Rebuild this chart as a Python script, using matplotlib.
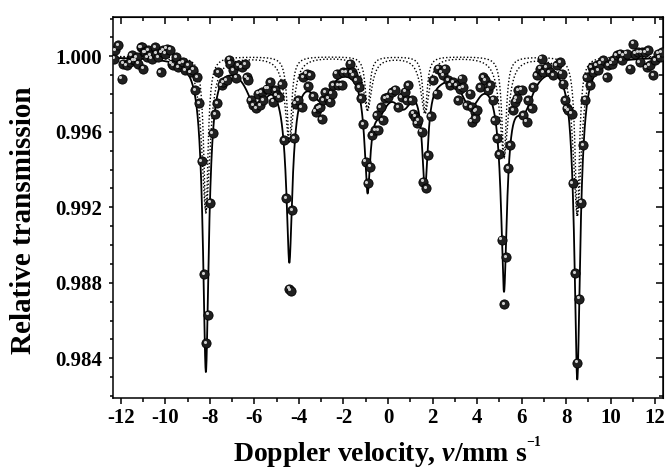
import numpy as np
import matplotlib.pyplot as plt
from matplotlib.ticker import MultipleLocator, FormatStrFormatter
from matplotlib.transforms import offset_copy

velocidad = [
    -12.30, -12.26, -12.11, -11.96, -11.88, -11.73, -11.58, -11.51, -11.43, -11.36,
    -11.29, -11.22, -11.11, -11.06, -10.99, -10.96, -10.91, -10.81, -10.76, -10.69,
    -10.61, -10.46, -10.42, -10.31, -10.21, -10.16, -10.09, -10.01, -9.94, -9.79,
    -9.71, -9.64, -9.52, -9.42, -9.34, -9.19, -9.12, -8.97, -8.86, -8.74,
    -8.67, -8.56, -8.47, -8.37, -8.26, -8.17, -8.07, -7.99, -7.87, -7.77,
    -7.66, -7.62, -7.47, -7.39, -7.24, -7.14, -7.09, -6.95, -6.83, -6.72,
    -6.57, -6.42, -6.35, -6.27, -6.17, -6.05, -5.93, -5.82, -5.75, -5.67,
    -5.60, -5.45, -5.37, -5.30, -5.15, -5.07, -5.00, -4.88, -4.77, -4.67,
    -4.58, -4.43, -4.37, -4.30, -4.21, -4.15, -4.03, -3.88, -3.80, -3.65,
    -3.58, -3.50, -3.35, -3.25, -3.13, -3.05, -2.98, -2.90, -2.83, -2.68,
    -2.60, -2.53, -2.46, -2.30, -2.23, -2.08, -2.01, -1.86, -1.71, -1.63,
    -1.56, -1.41, -1.29, -1.21, -1.11, -1.00, -0.91, -0.81, -0.70, -0.58,
    -0.51, -0.43, -0.33, -0.24, -0.13, 0.01, 0.17, 0.31, 0.46, 0.61,
    0.76, 0.84, 0.91, 1.06, 1.14, 1.21, 1.29, 1.36, 1.51, 1.59,
    1.71, 1.81, 1.92, 2.04, 2.19, 2.26, 2.41, 2.48, 2.56, 2.71,
    2.78, 2.93, 3.08, 3.16, 3.23, 3.31, 3.38, 3.53, 3.68, 3.76,
    3.76, 3.91, 3.91, 3.98, 4.13, 4.28, 4.36, 4.51, 4.58, 4.73,
    4.80, 4.91, 5.00, 5.11, 5.21, 5.30, 5.40, 5.48, 5.63, 5.70,
    5.78, 5.85, 6.00, 6.08, 6.23, 6.30, 6.45, 6.53, 6.68, 6.83,
    6.90, 6.97, 7.12, 7.27, 7.42, 7.57, 7.72, 7.80, 7.87, 7.95,
    8.02, 8.10, 8.25, 8.29, 8.40, 8.50, 8.59, 8.69, 8.77, 8.85,
    8.92, 9.07, 9.15, 9.22, 9.37, 9.45, 9.52, 9.67, 9.82, 9.89,
    10.04, 10.12, 10.27, 10.42, 10.49, 10.57, 10.72, 10.87, 11.02, 11.09,
    11.24, 11.31, 11.39, 11.54, 11.62, 11.69, 11.76, 11.92, 11.99, 12.14,
    12.21, 12.29,
]
transmision = [
    0.99988, 1.00032, 1.00058, 0.99882, 0.99961, 0.99952, 0.99970, 1.00005, 0.99979, 0.99979,
    0.99996, 0.99961, 1.00049, 1.00049, 0.99935, 1.00023, 1.00023, 0.99996, 1.00032, 1.00005,
    0.99988, 1.00049, 1.00014, 0.99996, 0.99917, 1.00023, 1.00032, 1.00014, 1.00040, 1.00035,
    0.99961, 0.99952, 0.99996, 0.99944, 0.99961, 0.99970, 0.99926, 0.99952, 0.99917, 0.99930,
    0.99820, 0.99891, 0.99753, 0.99445, 0.98847, 0.98480, 0.98632, 0.99225, 0.99592, 0.99692,
    0.99753, 0.99917, 0.99847, 0.99864, 0.99873, 0.99982, 0.99961, 0.99926, 0.99887, 0.99952,
    0.99944, 0.99958, 0.99891, 0.99877, 0.99768, 0.99741, 0.99724, 0.99803, 0.99741, 0.99811,
    0.99768, 0.99829, 0.99829, 0.99864, 0.99759, 0.99820, 0.99794, 0.99785, 0.99852, 0.99556,
    0.99248, 0.98768, 0.98759, 0.99186, 0.99565, 0.99750, 0.99768, 0.99732, 0.99891, 0.99908,
    0.99842, 0.99900, 0.99789, 0.99706, 0.99724, 0.99732, 0.99666, 0.99768, 0.99811, 0.99777,
    0.99759, 0.99803, 0.99847, 0.99908, 0.99847, 0.99847, 0.99917, 0.99917, 0.99961, 0.99917,
    0.99900, 0.99873, 0.99835, 0.99777, 0.99641, 0.99442, 0.99328, 0.99415, 0.99583, 0.99609,
    0.99688, 0.99609, 0.99732, 0.99662, 0.99777, 0.99785, 0.99811, 0.99824, 0.99732, 0.99785,
    0.99812, 0.99768, 0.99847, 0.99768, 0.99697, 0.99680, 0.99645, 0.99662, 0.99600, 0.99336,
    0.99301, 0.99477, 0.99683, 0.99873, 0.99803, 0.99935, 0.99917, 0.99900, 0.99935, 0.99873,
    0.99847, 0.99864, 0.99847, 0.99768, 0.99829, 0.99882, 0.99838, 0.99741, 0.99803, 0.99732,
    0.99653, 0.99706, 0.99671, 0.99715, 0.99838, 0.99891, 0.99873, 0.99820, 0.99847, 0.99771,
    0.99662, 0.99565, 0.99483, 0.99028, 0.98688, 0.98937, 0.99407, 0.99530, 0.99715, 0.99759,
    0.99777, 0.99820, 0.99824, 0.99688, 0.99653, 0.99768, 0.99724, 0.99835, 0.99900, 0.99935,
    0.99988, 0.99917, 0.99944, 0.99917, 0.99900, 0.99952, 0.99970, 0.99908, 0.99856, 0.99768,
    0.99724, 0.99715, 0.99697, 0.99328, 0.98852, 0.98377, 0.98716, 0.99225, 0.99530, 0.99771,
    0.99891, 0.99847, 0.99944, 0.99917, 0.99952, 0.99926, 0.99961, 0.99979, 0.99891, 0.99952,
    0.99961, 0.99979, 1.00005, 1.00014, 0.99979, 1.00005, 1.00014, 0.99935, 1.00067, 1.00014,
    1.00023, 0.99970, 1.00023, 1.00023, 0.99944, 1.00032, 0.99952, 0.99900, 0.99979, 1.00014,
    0.99996, 1.00023,
]

# Fit components: two sextets (dotted) + broad background absorption
sexteto_pos = [-8.18, -4.43, -0.92, 1.66, 5.21, 8.50]
sexteto_a_prof = [0.0083, 0.0046, 0.0029, 0.0030, 0.0054, 0.0085]
sexteto_b_prof = [0.0082, 0.0045, 0.0028, 0.0030, 0.0053, 0.0084]
sexteto_a_ancho = 0.24
sexteto_b_ancho = 0.45
ancho_pos = [-5.9, -4.5, -3.0, -0.4, 0.7, 2.3, 3.7, 5.1, 6.1]
ancho_prof = [0.0023, 0.0012, 0.0018, 0.0020, 0.0019, 0.0004, 0.0021, 0.0008, 0.0022]
ancho_ancho = 1.1


def lorentz(v, pos, prof, fwhm):
    out = np.zeros_like(v)
    for p, d in zip(pos, prof):
        out += d / (1 + ((v - p) / (fwhm / 2)) ** 2)
    return out


v = np.linspace(-12.35, 12.35, 3000)
sub_a = lorentz(v, sexteto_pos, sexteto_a_prof, sexteto_a_ancho)
sub_b = lorentz(v, sexteto_pos, sexteto_b_prof, sexteto_b_ancho)
fondo = lorentz(v, ancho_pos, ancho_prof, ancho_ancho)
total = 1 - sub_a - sub_b - fondo

plt.rcParams['font.family'] = 'Liberation Serif'
plt.rcParams['font.weight'] = 'bold'
plt.rcParams['axes.labelweight'] = 'bold'
plt.rcParams['axes.unicode_minus'] = False
plt.rcParams['mathtext.fontset'] = 'custom'
plt.rcParams['mathtext.rm'] = 'Liberation Serif:bold'
plt.rcParams['mathtext.bf'] = 'Liberation Serif:bold'
plt.rcParams['mathtext.it'] = 'Liberation Serif:italic:bold'

fig = plt.figure(figsize=(6.68, 4.73), dpi=100)
ax = fig.add_axes([0.1692, 0.1586, 0.8233, 0.8061])

ax.plot(v, 1 - sub_a, color='black', lw=1.0, ls=(0, (1, 1.5)), zorder=2)
ax.plot(v, 1 - sub_b, color='black', lw=1.0, ls=(0, (1, 1.5)), zorder=2)
ax.plot(v, total, color='black', lw=1.3, zorder=3)

# shaded "ball" markers
ax.scatter(velocidad, transmision, s=44, facecolor='#202020', edgecolor='black',
           linewidths=0.6, zorder=4)
hl = offset_copy(ax.transData, fig=fig, x=-1.0, y=1.0, units='points')
ax.scatter(velocidad, transmision, s=5, color='#cfcfcf', linewidths=0,
           transform=hl, zorder=5)

ax.set_xlim(-12.35, 12.35)
ax.set_ylim(0.9819, 1.0021)
ax.xaxis.set_major_locator(MultipleLocator(2))
ax.xaxis.set_minor_locator(MultipleLocator(1))
ax.yaxis.set_major_locator(MultipleLocator(0.004))
ax.yaxis.set_minor_locator(MultipleLocator(0.001))
ax.yaxis.set_major_formatter(FormatStrFormatter('%.3f'))

ax.tick_params(which='both', direction='out', labelsize=15, width=1.1)
ax.tick_params(axis='x', which='major', length=4.5, pad=3)
ax.tick_params(axis='x', which='minor', length=2.8)
ax.tick_params(axis='y', which='major', length=3, pad=5)
ax.tick_params(axis='y', which='minor', length=2.5)
for s in ax.spines.values():
    s.set_linewidth(1.1)

top = ax.secondary_xaxis('top')
top.xaxis.set_major_locator(MultipleLocator(2))
top.xaxis.set_minor_locator(MultipleLocator(1))
top.tick_params(which='both', direction='in', labeltop=False, width=1.1)
top.tick_params(which='major', length=5)
top.tick_params(which='minor', length=3)
der = ax.secondary_yaxis('right')
der.yaxis.set_major_locator(MultipleLocator(0.004))
der.yaxis.set_minor_locator(MultipleLocator(0.001))
der.tick_params(which='both', direction='in', labelright=False, width=1.1)
der.tick_params(which='major', length=5)
der.tick_params(which='minor', length=3)

ax.set_xlabel(r'Doppler velocity, $\mathit{v}$/mm s$^{{}^{\mathregular{-1}}}$',
              fontsize=20, fontweight='bold', labelpad=4)
ax.set_ylabel('Relative transmission', fontsize=21, fontweight='bold')
ax.yaxis.set_label_coords(-0.138, 0.467)

fig.savefig('out.png', dpi=100)
